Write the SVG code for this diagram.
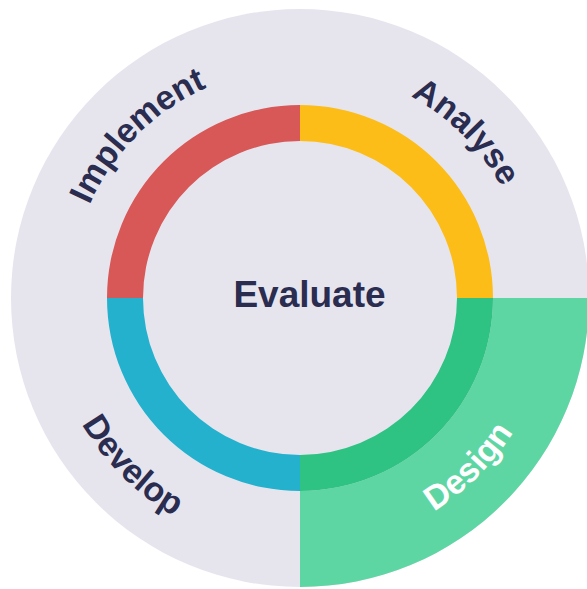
<svg xmlns="http://www.w3.org/2000/svg" xmlns:xlink="http://www.w3.org/1999/xlink" width="587" height="589" viewBox="0 0 587 589">
  <style>
    .lbl { font-family: "Liberation Sans", Arial, sans-serif; font-weight: 700; font-size: 34px; fill: #2A2C50; }
    .white { fill: #FFFFFF; }
    .center { font-family: "Liberation Sans", Arial, sans-serif; font-weight: 700; font-size: 37px; fill: #2A2C50; }
  </style>
  <defs>
    <path id="pImplement" d="M77.8,357.5 A230,230 0 0 1 359.5,75.8"/>
    <path id="pAnalyse" d="M240.5,75.8 A230,230 0 0 1 522.2,357.5"/>
    <path id="pDevelop" d="M56.6,232.8 A252,252 0 0 0 365.2,541.4"/>
    <path id="pDesign" d="M234.8,541.4 A252,252 0 0 0 543.4,232.8"/>
  </defs>
  <rect width="587" height="589" fill="#FFFFFF"/>
  <g id="background">
    <circle cx="300" cy="298" r="289" fill="#E6E5EE"/>
  </g>
  <g id="design-sector">
    <path d="M493,298 L589,298 A289,289 0 0 1 300,587 L300,491 A193,193 0 0 0 493,298 Z" fill="#5ED6A3"/>
  </g>
  <g id="ring">
    <path id="seg-implement" d="M107,298 A193,193 0 0 1 300,105 L300,141 A157,157 0 0 0 143,298 Z" fill="#D85757"/>
    <path id="seg-analyse" d="M300,105 A193,193 0 0 1 493,298 L457,298 A157,157 0 0 0 300,141 Z" fill="#FDBD18"/>
    <path id="seg-design" d="M493,298 A193,193 0 0 1 300,491 L300,455 A157,157 0 0 0 457,298 Z" fill="#2EC283"/>
    <path id="seg-develop" d="M300,491 A193,193 0 0 1 107,298 L143,298 A157,157 0 0 0 300,455 Z" fill="#23B1CD"/>
  </g>
  <g id="evaluate">
    <text class="center" x="309.5" y="307" text-anchor="middle">Evaluate</text>
  </g>
  <g id="implement">
    <text class="lbl" text-anchor="middle"><textPath xlink:href="#pImplement" href="#pImplement" startOffset="50%">Implement</textPath></text>
  </g>
  <g id="analyse">
    <text class="lbl" text-anchor="middle"><textPath xlink:href="#pAnalyse" href="#pAnalyse" startOffset="50%">Analyse</textPath></text>
  </g>
  <g id="develop">
    <text class="lbl" text-anchor="middle"><textPath xlink:href="#pDevelop" href="#pDevelop" startOffset="50%">Develop</textPath></text>
  </g>
  <g id="design">
    <text class="lbl white" text-anchor="middle"><textPath xlink:href="#pDesign" href="#pDesign" startOffset="50%">Design</textPath></text>
  </g>
</svg>
